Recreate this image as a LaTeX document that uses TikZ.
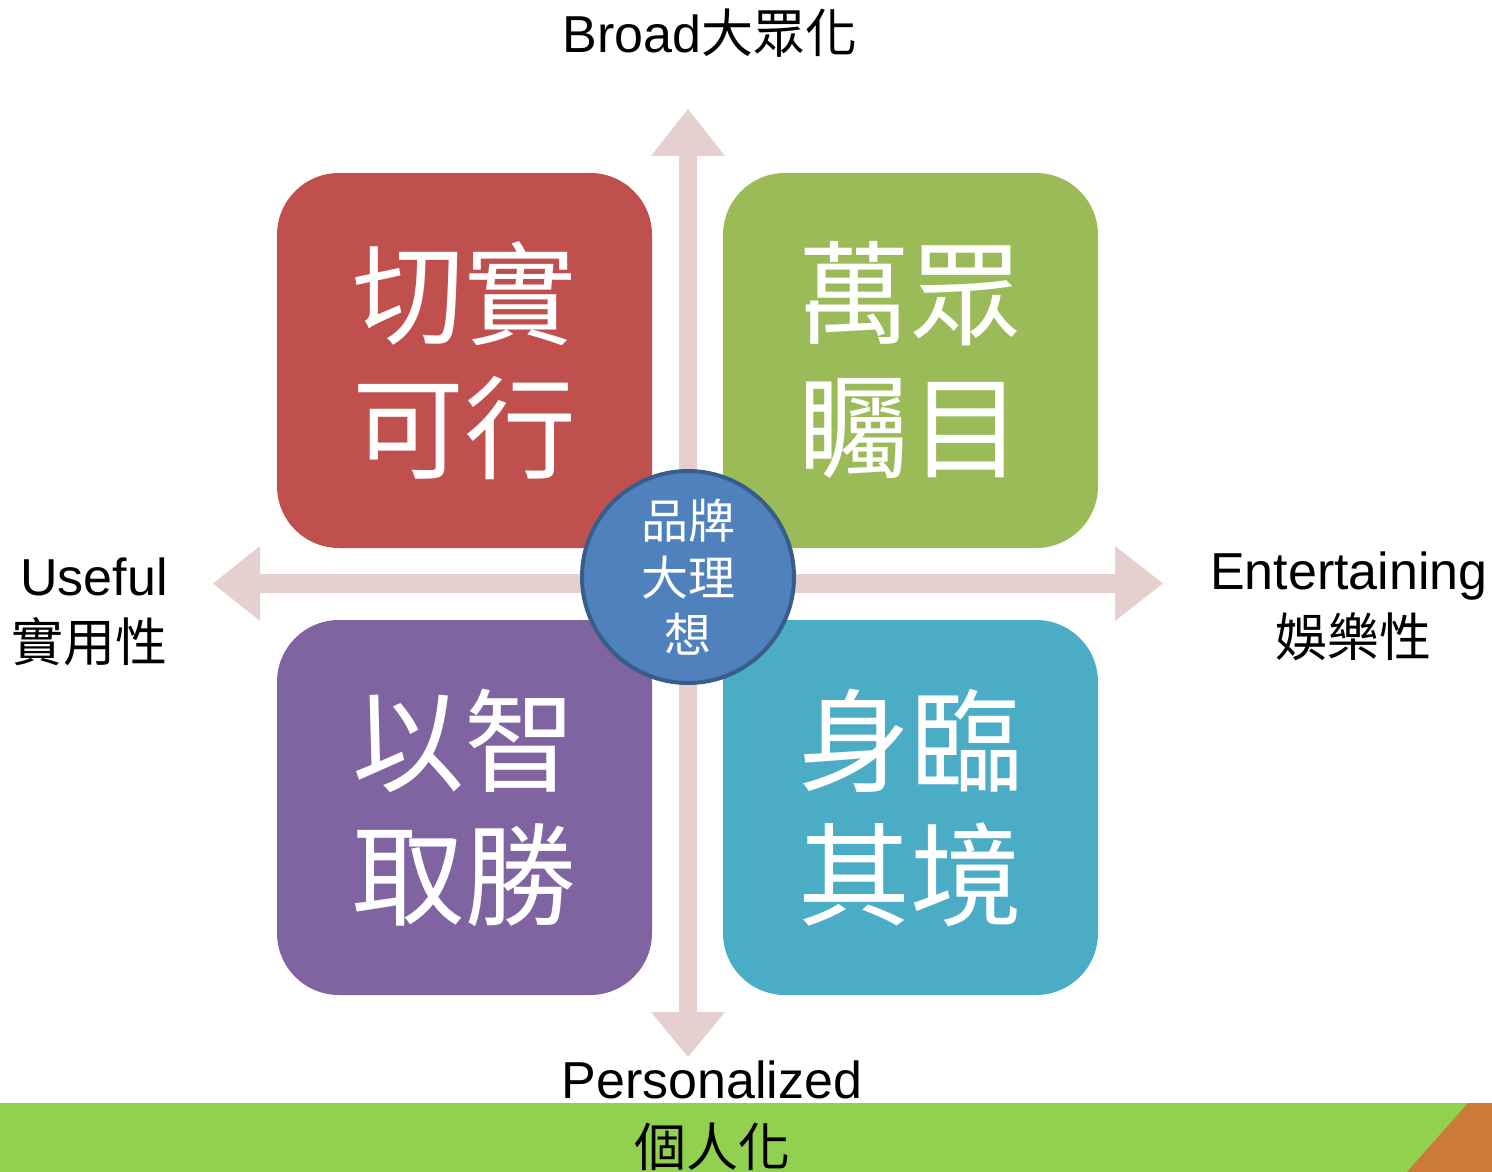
\documentclass[tikz,border=0pt]{standalone}
\usepackage{fontspec}
\setmainfont{Liberation Sans}
\newfontfamily\cjk{Noto Sans CJK TC}
\definecolor{axispink}{HTML}{E6CFCF}
\definecolor{qred}{HTML}{C0504D}
\definecolor{qgreen}{HTML}{9BBB59}
\definecolor{qpurple}{HTML}{8064A2}
\definecolor{qteal}{HTML}{4BACC6}
\definecolor{hubblue}{HTML}{4F81BD}
\definecolor{hubborder}{HTML}{385D8A}
\definecolor{bandgreen}{HTML}{92D050}
\definecolor{bandorange}{HTML}{CC7A37}
\begin{document}
\begin{tikzpicture}[x=1pt,y=-1pt,
  quad/.style={rounded corners=62pt, minimum width=375pt, minimum height=375pt,
    inner sep=0pt, text=white, align=center, font=\fontsize{112}{134}\selectfont\cjk},
  axislabel/.style={font=\fontsize{52}{60}\selectfont, text=black, inner sep=0pt},
  cjklabel/.style={font=\fontsize{52}{60}\selectfont\cjk, text=black, inner sep=0pt},
  axisarrow/.style={fill=axispink}]
\useasboundingbox (0,0) rectangle (1492,1172);
% bottom band
\fill[bandgreen] (0,1103) rectangle (1492,1172);
\fill[bandorange] (1468,1103) -- (1492,1103) -- (1492,1172) -- (1407,1172) -- cycle;
% axes
\fill[axisarrow] (688,109) -- (725,156) -- (697,156) -- (697,1012) -- (725,1012)
  -- (688,1057) -- (651,1012) -- (679,1012) -- (679,156) -- (651,156) -- cycle;
\fill[axisarrow] (213,583.5) -- (260,546) -- (260,574) -- (1115,574) -- (1115,546)
  -- (1163,583.5) -- (1115,621) -- (1115,593) -- (260,593) -- (260,621) -- cycle;
% quadrants
\node[quad, fill=qred]    (q1) at (464.5,360.5) {切實\\可行};
\node[quad, fill=qgreen]  (q2) at (910.5,360.5) {萬眾\\矚目};
\node[quad, fill=qpurple] (q3) at (464.5,807.5) {以智\\取勝};
\node[quad, fill=qteal]   (q4) at (910.5,807.5) {身臨\\其境};
% hub
\node[circle, minimum size=212pt, inner sep=0pt, fill=hubblue, draw=hubborder,
  line width=4pt, text=white, align=center, font=\fontsize{47}{57}\selectfont\cjk]
  (hub) at (688,577) {品牌\\大理\\想};
% axis labels
\node[axislabel, anchor=base] (top) at (710,53) {Broad{\cjk 大眾化}};
\node[axislabel, anchor=base] (left) at (94,595) {Useful};
\node[cjklabel] (leftzh) at (90,642) {實用性};
\node[axislabel, anchor=base] (right) at (1349,589) {Entertaining};
\node[cjklabel] (rightzh) at (1353,637) {娛樂性};
\node[axislabel, anchor=base] (bottom) at (712,1098) {Personalized};
\node[cjklabel] (bottomzh) at (712,1147) {個人化};
\end{tikzpicture}
\end{document}
